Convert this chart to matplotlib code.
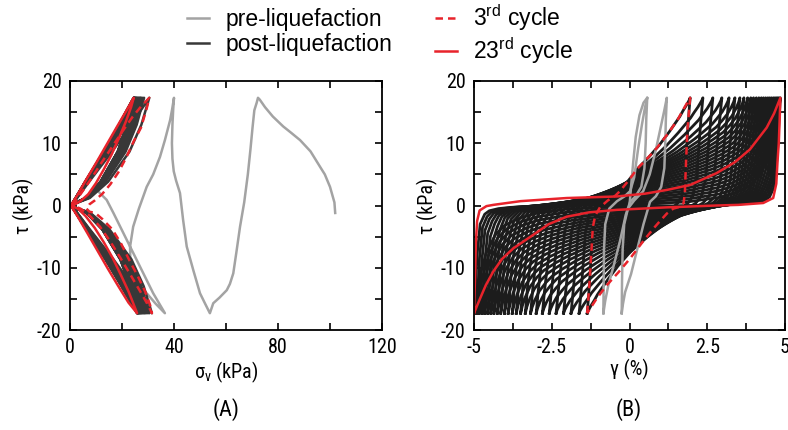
import numpy as np
import matplotlib
matplotlib.use('Agg')
import matplotlib.pyplot as plt
from matplotlib.lines import Line2D

plt.rcParams['font.family'] = ['Liberation Sans', 'DejaVu Sans']
plt.rcParams['mathtext.fontset'] = 'custom'
plt.rcParams['mathtext.rm'] = 'Liberation Sans'

tau_amp = 17.3  # cyclic shear stress amplitude (kPa)

# post-liquefaction cycles: strain at +tau and -tau peaks (%)
gam_top = [1.95, 2.36, 2.68, 2.97, 3.20, 3.39, 3.55, 3.68, 3.80, 3.90, 3.99, 4.08, 4.16,
           4.24, 4.31, 4.38, 4.45, 4.51, 4.57, 4.63, 4.68, 4.73, 4.77, 4.81, 4.85]
gam_bot = [-1.36, -1.62, -1.88, -2.12, -2.36, -2.58, -2.80, -3.00, -3.18, -3.35, -3.50, -3.64, -3.77,
           -3.90, -4.02, -4.14, -4.25, -4.36, -4.46, -4.56, -4.66, -4.75, -4.84, -4.92, -5.00]
# vertical effective stress at the same peaks (kPa)
sig_top = [30.5, 28.5, 28.0, 27.5, 27.2, 27.0, 26.8, 26.5, 26.3, 26.0, 25.8, 25.6, 25.4,
           25.3, 25.1, 25.0, 24.9, 24.8, 24.7, 24.6, 24.6, 24.5, 24.5, 24.5, 24.5]
sig_bot = [31.5, 30.5, 30.0, 29.5, 29.0, 28.7, 28.4, 28.1, 27.8, 27.5, 27.3, 27.1, 26.9,
           26.7, 26.6, 26.4, 26.3, 26.2, 26.1, 26.0, 26.0, 25.9, 25.9, 25.8, 25.8]

# loading branch shape (fraction of strain range -> tau), early and late cycles
u_knot = [0, .005, .01, .02, .035, .05, .08, .12, .2, .3, .4, .5, .6, .7, .8, .85, .9, .93, .96, .98, .993, 1]
tau_early = [-17.3, -16.3, -15.3, -13.0, -9.0, -4.5, -1.6, -0.4, 0.8, 2.0, 4.0, 6.1, 7.8, 9.7,
             11.9, 13.1, 14.3, 15.2, 16.0, 16.6, 17.0, 17.3]
tau_late = [-17.3, -13.0, -8.0, -3.0, -1.4, -0.85, -0.5, -0.3, -0.1, 0.0, 0.1, 0.2, 0.35, 0.6,
            1.3, 2.0, 3.2, 4.7, 7.6, 11.2, 14.6, 17.3]

# stress path lobe shape: |tau|/tau_amp -> sigma_v / sigma_v at peak
frac_tau = [0, 0.02, 0.07, 0.22, 0.5, 0.75, 1]
sig_load = [0.02, 0.04, 0.09, 0.24, 0.53, 0.77, 1]
sig_unload = [0.02, 0.07, 0.25, 0.48, 0.75, 0.9, 1]

# pre-liquefaction stress path (sigma_v, tau)
pre_A = [(102, -1.2), (101.7, 0.5), (100, 3.0), (98, 5.0), (96.2, 6.2), (92.5, 8.7), (88.5, 10.5),
         (85, 11.7), (82, 12.7), (78, 14.3), (75, 15.8), (73, 17.0), (72.3, 17.3), (71.8, 16.5),
         (70.9, 15.3), (70.2, 12.5), (69.4, 9.0), (68.4, 5.0), (67, 0.5), (65.4, -3.4), (64, -7.5),
         (62.8, -10.9), (61.5, -12.6), (60.3, -13.6), (57.5, -14.8), (55.1, -15.7), (53.8, -17.3),
         (52, -15.8), (50, -14.1), (47.5, -10.5), (44.9, -6.6), (43.5, -2.3), (42.3, 2.0), (40.8, 4.0),
         (39.9, 5.5), (39.4, 7.5), (39.2, 10.0), (39.4, 13.0), (39.7, 15.5), (40, 17.3), (39.3, 15.5),
         (38.5, 13.7), (36.5, 10.5), (34.6, 7.8), (32, 5.0), (29.5, 3.0), (26.5, -0.5), (24.3, -3.4),
         (23.1, -6.6), (23.2, -9.0), (23.7, -10.9), (26, -12.7), (29.5, -14.1), (33, -15.8),
         (36.5, -17.3), (32, -14.1), (26.9, -9.8), (21.8, -5.5), (16.7, -1.2), (14.1, 0.9), (10.3, 2.5)]

# pre-liquefaction stress-strain loops (gamma, tau)
pre_B1 = [(-0.84, -17.3), (-0.83, -12), (-0.82, -7), (-0.78, -3), (-0.65, -0.5), (-0.4, 0.7),
          (-0.15, 1.5), (0.02, 2.3), (0.15, 4.5), (0.28, 9.2), (0.4, 13), (0.5, 15.8), (0.57, 17.3),
          (0.54, 14), (0.52, 10), (0.48, 6), (0.38, 3), (0.2, 1.5), (0.02, 0.6), (-0.12, -1.5),
          (-0.31, -5.8), (-0.5, -9.5), (-0.68, -12.8), (-0.78, -15.3), (-0.84, -17.3)]
pre_B2 = [(-0.25, -17.3), (-0.24, -12), (-0.22, -7), (-0.17, -3), (-0.05, -0.5), (0.15, 0.8),
          (0.44, 2.3), (0.65, 5), (0.85, 9), (1.0, 12.5), (1.12, 15.3), (1.2, 17.3), (1.17, 14),
          (1.15, 10), (1.12, 6), (1.02, 3), (0.85, 1.5), (0.66, 0.6), (0.45, -3), (0.23, -7.4),
          (0.05, -11), (-0.14, -13.9), (-0.21, -15.8), (-0.25, -17.3)]
pre_B0 = [(0, 0), (0.05, 3), (0.12, 7), (0.2, 11), (0.32, 14.5), (0.45, 16.5), (0.57, 17.3)]

# 3rd cycle
c3_B = [(-1.36, -17.3), (-1.28, -12), (-1.22, -7), (-1.18, -3.5), (-1.1, -1.6), (-0.95, -0.3),
        (-0.7, 0.8), (-0.45, 1.6), (-0.31, 2.3), (0.0, 4.2), (0.23, 5.8), (0.5, 7.2), (0.77, 8.6),
        (1.05, 10.3), (1.3, 12), (1.55, 13.8), (1.75, 15.6), (1.95, 17.3),
        (1.86, 12), (1.81, 6), (1.78, 2), (1.74, 0.4), (1.62, -0.2), (1.41, -0.5), (1.2, -1.3),
        (0.98, -2.5), (0.77, -3.7), (0.4, -6.0), (0.02, -8.5), (-0.35, -10.7), (-0.73, -12.8),
        (-1.05, -14.9), (-1.36, -17.3)]
c3_A = [(1.0, 0.0), (4, 1.8), (8, 4.2), (12, 6.8), (16, 9.3), (20, 11.8), (24, 14.2), (27.5, 16.0),
        (30.5, 17.3), (29.5, 15.6), (27.3, 12.5), (24.5, 10.3), (21.5, 7.6), (18.7, 5.4), (15.5, 3.4),
        (12.5, 1.9), (9.5, 0.8), (7.5, 0.2), (6.3, -0.5), (7.5, -1.0), (9.7, -1.2), (12.5, -2.2),
        (16.2, -3.8), (19.5, -6.0), (22.6, -8.6), (26, -11.3), (29, -13.9), (30.8, -16), (31.5, -17.3),
        (30, -16), (27, -13.8), (23.5, -11.3), (19.5, -8.5), (15.5, -5.8), (11.5, -3.4), (7.5, -1.6),
        (4, -0.5), (1.0, 0.0)]

# 23rd cycle
c23_B = [(-5.0, -17.3), (-4.97, -12), (-4.94, -6), (-4.9, -2.5), (-4.82, -0.8), (-4.6, -0.1),
         (-4.38, 0.1), (-3.5, 0.7), (-2.02, 1.2), (-0.41, 1.45), (0.5, 1.9), (1.2, 2.5), (1.95, 3.3),
         (2.8, 5.2), (3.4, 7), (3.87, 9.0), (4.41, 12.5), (4.65, 14.8), (4.85, 17.3),
         (4.83, 14), (4.8, 10), (4.76, 7.1), (4.72, 3.5), (4.62, 1.2), (4.3, 0.4), (3.5, 0.1), (2.8, 0),
         (1.2, -0.3), (-0.41, -0.7), (-1.3, -1.1), (-2.02, -1.8), (-2.6, -3), (-3.09, -4.7),
         (-3.74, -6.9), (-4.1, -8.6), (-4.38, -10.6), (-4.62, -12.8), (-4.81, -15), (-5.0, -17.3)]
c23_A = [(0.3, 0), (3, 1.8), (6, 4.0), (10, 6.8), (14, 9.7), (18, 12.6), (21.5, 15.1), (24.5, 17.3),
         (23.5, 15.8), (21.5, 13.5), (19, 11), (16, 8.2), (13, 5.8), (10, 3.6), (7, 1.8), (4, 0.7),
         (1.5, 0.1), (0.3, 0), (3, -1.8), (6.5, -4.3), (10.5, -7.2), (14.5, -10.1), (18.5, -12.9),
         (22.5, -15.6), (25.8, -17.3), (24.5, -15.9), (22.5, -13.8), (19.5, -11.1), (16.5, -8.5),
         (13, -5.9), (9.5, -3.6), (6, -1.7), (3, -0.5), (0.3, 0)]

c_pre = '#a3a3a3'
c_postA = '#383838'
c_postB = '#1c1c1c'
c_red = '#e8232b'
lw = 1.8

fig = plt.figure(figsize=(7.88, 4.30), dpi=100)
axA = fig.add_axes([70/788, 1 - 330/430, 312/788, 249/430])
axB = fig.add_axes([474/788, 1 - 330/430, 311/788, 249/430])

u = np.array(u_knot)
ft = np.array(frac_tau) * tau_amp
n = len(gam_top)

# (A) stress path
axA.plot(*np.array(pre_A).T, color=c_pre, lw=lw)
for i in range(n):
    s = np.r_[sig_top[i]*np.array(sig_load), sig_top[i]*np.array(sig_unload)[::-1],
              sig_bot[i]*np.array(sig_load), sig_bot[i]*np.array(sig_unload)[::-1]]
    t = np.r_[ft, ft[::-1], -ft, -ft[::-1]]
    axA.plot(s, t, color=c_postA, lw=lw)
axA.plot(*np.array(c23_A).T, color=c_red, lw=lw)
axA.plot(*np.array(c3_A).T, color=c_red, lw=lw, ls=(0, (3, 2)))

# (B) stress-strain loops
for i in range(n):
    w = (i / (n - 1))**1.2
    tau = (1 - w)*np.array(tau_early) + w*np.array(tau_late)
    g_up = gam_bot[i] + u*(gam_top[i] - gam_bot[i])
    g_dn = gam_top[i] - u*(gam_top[i] - gam_bot[i])
    axB.plot(np.r_[g_up, g_dn[1:]], np.r_[tau, -tau[1:]], color=c_postB, lw=2.0)
for pts in (pre_B0, pre_B1, pre_B2):
    axB.plot(*np.array(pts).T, color=c_pre, lw=lw)
axB.plot(*np.array(c23_B).T, color=c_red, lw=lw)
axB.plot(*np.array(c3_B).T, color=c_red, lw=lw, ls=(0, (3, 2)))

fs = 14.5
narrow = ['Roboto Condensed', 'Liberation Sans', 'DejaVu Sans']
axA.set_xlim(0, 120)
axA.set_xticks(np.arange(0, 121, 20))
axA.set_xticklabels(['0', '', '40', '', '80', '', '120'])
axB.set_xlim(-5, 5)
axB.set_xticks(np.arange(-5, 5.01, 1.25))
axB.set_xticklabels(['-5', '', '-2.5', '', '0', '', '2.5', '', '5'])
for ax in (axA, axB):
    ax.set_ylim(-20, 20)
    ax.set_yticks(np.arange(-20, 21, 5))
    ax.set_yticklabels(['-20', '', '-10', '', '0', '', '10', '', '20'])
    ax.tick_params(direction='in', top=True, right=True, length=5, width=1.2,
                   labelsize=fs, pad=6)
    for lab in ax.get_xticklabels() + ax.get_yticklabels():
        lab.set_family(narrow)
    for sp in ax.spines.values():
        sp.set_linewidth(1.3)
    ax.set_ylabel('τ (kPa)', fontsize=fs, labelpad=2, family=narrow)
axA.set_xlabel('σ$_\\mathregular{v}$ (kPa)', fontsize=fs, labelpad=1.5, family=narrow)
axB.set_xlabel('γ (%)', fontsize=fs, labelpad=1.5, family=narrow)

fig.text(226/788, 1 - 410/430, '(A)', ha='center', va='center', fontsize=16, family=narrow)
fig.text(629/788, 1 - 410/430, '(B)', ha='center', va='center', fontsize=16, family=narrow)

handles = [Line2D([], [], color=c_pre, lw=lw),
           Line2D([], [], color=c_postA, lw=lw),
           Line2D([], [], color=c_red, lw=lw, ls=(0, (3, 2))),
           Line2D([], [], color=c_red, lw=lw)]
labels = ['pre-liquefaction', 'post-liquefaction',
          '3$^\\mathregular{rd}$ cycle', '23$^\\mathregular{rd}$ cycle']
fig.legend(handles, labels, loc='upper left', bbox_to_anchor=(0.226, 1.017), ncol=2,
           frameon=False, fontsize=16.5, handlelength=0.95, handletextpad=0.72,
           columnspacing=1.85, borderaxespad=0.1, borderpad=0.3, labelspacing=0.1)

fig.savefig('out.png', dpi=100)
